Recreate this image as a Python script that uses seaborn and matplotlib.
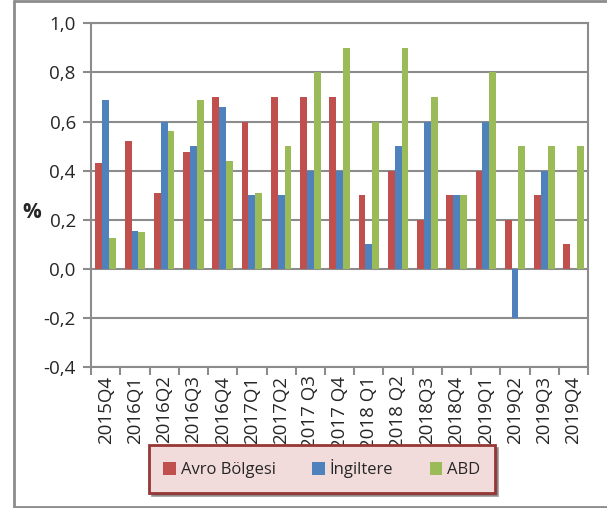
import numpy as np
import pandas as pd
import matplotlib
matplotlib.use("Agg")
import matplotlib.pyplot as plt
import seaborn as sns
from matplotlib.lines import Line2D
from matplotlib.ticker import FixedLocator, FuncFormatter

sns.set_theme(style="white")
plt.rcParams['font.family'] = ['Open Sans', 'DejaVu Sans']

# data
quarters = ['2015Q4', '2016Q1', '2016Q2', '2016Q3', '2016Q4', '2017Q1', '2017Q2',
            '2017 Q3', '2017 Q4', '2018 Q1', '2018 Q2', '2018Q3', '2018Q4',
            '2019Q1', '2019Q2', '2019Q3', '2019Q4']
avro = [0.43, 0.52, 0.31, 0.475, 0.70, 0.60, 0.70, 0.70, 0.70, 0.30, 0.40, 0.20, 0.30,
        0.40, 0.20, 0.30, 0.10]
ingiltere = [0.69, 0.155, 0.60, 0.50, 0.66, 0.30, 0.30, 0.40, 0.40, 0.10, 0.50, 0.60, 0.30,
             0.60, -0.20, 0.40, 0.00]
abd = [0.125, 0.15, 0.56, 0.69, 0.44, 0.31, 0.50, 0.80, 0.90, 0.60, 0.90, 0.70, 0.30,
       0.80, 0.50, 0.50, 0.50]
series = ['Avro Bölgesi', 'İngiltere', 'ABD']
colors = ['#C0504D', '#4F81BD', '#9BBB59']

df = pd.DataFrame({'Dönem': quarters * 3,
                   'Değer': avro + ingiltere + abd,
                   'Seri': [s for s in series for _ in quarters]})

fig = plt.figure(figsize=(6.07, 5.08), dpi=100)
ax = fig.add_axes([0.150, 0.277, 0.819, 0.677])

sns.barplot(data=df, x='Dönem', y='Değer', hue='Seri', order=quarters,
            hue_order=series, palette=colors, width=0.7, saturation=1,
            edgecolor='none', ax=ax, legend=True)

ax.set_ylim(-0.4, 1.0)
ax.set_xlim(-0.5, len(quarters) - 0.5)
ax.set_yticks(np.arange(-0.4, 1.01, 0.2))
ax.yaxis.set_major_formatter(FuncFormatter(lambda v, p: ('%.1f' % v).replace('.', ',')))
ax.yaxis.grid(True, color='#8c8c8c', linewidth=1.5)
ax.set_axisbelow(True)
for s in ax.spines.values():
    s.set_color('#8c8c8c')
    s.set_linewidth(1.5)

ax.set_xticks(range(len(quarters)))
ax.set_xticklabels(quarters, rotation=90, fontsize=13.5)
ax.xaxis.set_minor_locator(FixedLocator(np.arange(-0.5, len(quarters), 1)))
ax.tick_params(axis='x', which='major', length=0, pad=6)
ax.tick_params(axis='x', which='minor', length=6, width=1.5, color='#8c8c8c', bottom=True)
ax.tick_params(axis='y', length=6, width=1.5, color='#8c8c8c', left=True, labelsize=13.5, pad=5)
ax.set_xlabel('')
ax.set_ylabel('%', rotation=0, fontsize=15, fontweight='bold', va='center', ha='center')
ax.yaxis.set_label_coords(-0.12, 0.45)

handles, labels = ax.get_legend_handles_labels()
ax.get_legend().remove()
leg = fig.legend(handles, labels, loc='center', bbox_to_anchor=(0.530, 0.077), ncol=3,
                 frameon=True, fancybox=False, shadow=True, fontsize=12,
                 handlelength=0.75, handleheight=0.75, handletextpad=0.3,
                 columnspacing=2.2, borderpad=0.85)
leg.get_frame().set_facecolor('#F2DCDB')
leg.get_frame().set_edgecolor('#953735')
leg.get_frame().set_linewidth(2)

# outer chart frame (open at right, as in the source)
x0 = 13.5 / 607
for xs, ys in [([x0, 1.0], [0.999, 0.999]), ([x0, x0], [0.002, 0.999]), ([x0, 1.0], [0.002, 0.002])]:
    fig.add_artist(Line2D(xs, ys, transform=fig.transFigure, color='#8c8c8c', linewidth=2))

fig.savefig('out.png', dpi=100)
